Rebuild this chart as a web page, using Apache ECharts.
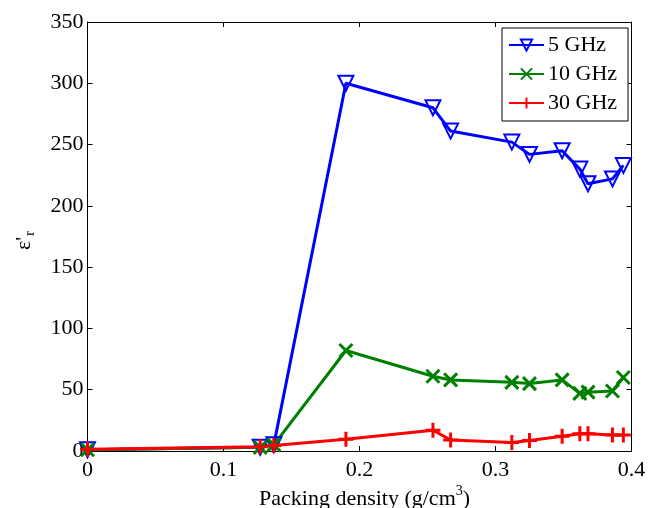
<!DOCTYPE html>
<html>
<head>
<meta charset="utf-8">
<script src="https://cdn.jsdelivr.net/npm/echarts@6/dist/echarts.min.js"></script>
<style>html,body{margin:0;padding:0;background:#fff;}#c{width:650px;height:508px;}</style>
</head>
<body>
<div id="c"></div>
<script>
const density = [0, 0.127, 0.137, 0.190, 0.254, 0.267, 0.312, 0.325, 0.349, 0.362, 0.368, 0.386, 0.394];
const eps5GHz = [1, 3, 5, 300, 280, 261, 252, 242, 245, 230, 218, 222, 233];
const eps10GHz = [1, 3, 5, 82, 61, 58, 56, 55, 58, 47, 48, 49, 60];
const eps30GHz = [1.5, 3.5, 4.5, 9.5, 17, 9, 7, 8.5, 12, 14, 14, 13, 13];
const seriesNames = ['5 GHz', '10 GHz', '30 GHz'];
const xTicks = [0, 0.1, 0.2, 0.3, 0.4];
const yTicks = [0, 50, 100, 150, 200, 250, 300, 350];

const FONT = 'Liberation Serif';
const pairs = (ys) => density.map((x, i) => [x, ys[i]]);
const X_PATH = 'path://M0,0L10,10M10,0L0,10';
const PLUS_PATH = 'path://M5,0L5,10M0,5L10,5';

const chart = echarts.init(document.getElementById('c'), null, {renderer: 'canvas'});
const axisCommon = {
  axisLine: {show: true, onZero: false, lineStyle: {color: '#000', width: 1}},
  axisTick: {show: true, inside: true, length: 5, lineStyle: {color: '#000'}},
  splitLine: {show: false}
};
chart.setOption({
  animation: false,
  backgroundColor: '#fff',
  grid: {left: 87.5, right: 18.5, top: 22, bottom: 57},
  legend: {
    orient: 'vertical',
    left: 502, top: 28,
    padding: [6, 11, 7, 6],
    itemGap: 7,
    itemWidth: 35, itemHeight: 14,
    borderColor: '#000', borderWidth: 1,
    backgroundColor: '#fff',
    textStyle: {fontFamily: FONT, fontSize: 22, lineHeight: 22, color: '#000', padding: [0,0,0,-1]},
    data: seriesNames
  },
  xAxis: [Object.assign({
    type: 'value', min: xTicks[0], max: xTicks[xTicks.length-1], interval: 0.1, position: 'bottom',
    axisLabel: {fontFamily: FONT, fontSize: 22, color: '#000', margin: 8}
  }, axisCommon), Object.assign({
    type: 'value', min: xTicks[0], max: xTicks[xTicks.length-1], interval: 0.1, position: 'top',
    axisLabel: {show: false}
  }, axisCommon)],
  yAxis: [Object.assign({
    type: 'value', min: yTicks[0], max: yTicks[yTicks.length-1], interval: 50, position: 'left',
    axisLabel: {fontFamily: FONT, fontSize: 22, color: '#000', margin: 4}
  }, axisCommon), Object.assign({
    type: 'value', min: yTicks[0], max: yTicks[yTicks.length-1], interval: 50, position: 'right',
    axisLabel: {show: false}
  }, axisCommon)],
  graphic: [
    {
      type: 'text', left: 259, top: 484,
      style: {
        text: '{a|Packing density (g/cm}{s|3}{a|)}',
        rich: {
          a: {fontFamily: FONT, fontSize: 22, color: '#000', lineHeight: 26, verticalAlign: 'bottom'},
          s: {fontFamily: FONT, fontSize: 14, color: '#000', lineHeight: 26, verticalAlign: 'top', padding: [0, 0, 12, 0]}
        }
      }
    },
    {
      type: 'group', x: 24, y: 250, rotation: Math.PI / 2,
      children: [
        {type: 'text', x: 0, y: 0, style: {text: "ε'", fontFamily: FONT, fontSize: 22, fill: '#000', textAlign: 'left', textVerticalAlign: 'middle'}},
        {type: 'text', x: 14, y: 6, style: {text: 'r', fontFamily: FONT, fontSize: 15, fill: '#000', textAlign: 'left', textVerticalAlign: 'middle'}}
      ]
    }
  ],
  series: [
    {
      name: seriesNames[0], type: 'line', data: pairs(eps5GHz), showAllSymbol: true,
      symbol: 'triangle', symbolRotate: 180, symbolSize: 15,
      lineStyle: {color: '#0000ff', width: 3},
      itemStyle: {color: 'rgba(255,255,255,0)', borderColor: '#0000ff', borderWidth: 2}
    },
    {
      name: seriesNames[1], type: 'line', data: pairs(eps10GHz), showAllSymbol: true,
      symbol: X_PATH, symbolSize: 13,
      lineStyle: {color: '#008000', width: 3},
      itemStyle: {color: 'rgba(0,0,0,0)', borderColor: '#008000', borderWidth: 3}
    },
    {
      name: seriesNames[2], type: 'line', data: pairs(eps30GHz), showAllSymbol: true,
      symbol: PLUS_PATH, symbolSize: 15,
      lineStyle: {color: '#ff0000', width: 3},
      itemStyle: {color: 'rgba(0,0,0,0)', borderColor: '#ff0000', borderWidth: 3}
    }
  ]
});
</script>
</body>
</html>
